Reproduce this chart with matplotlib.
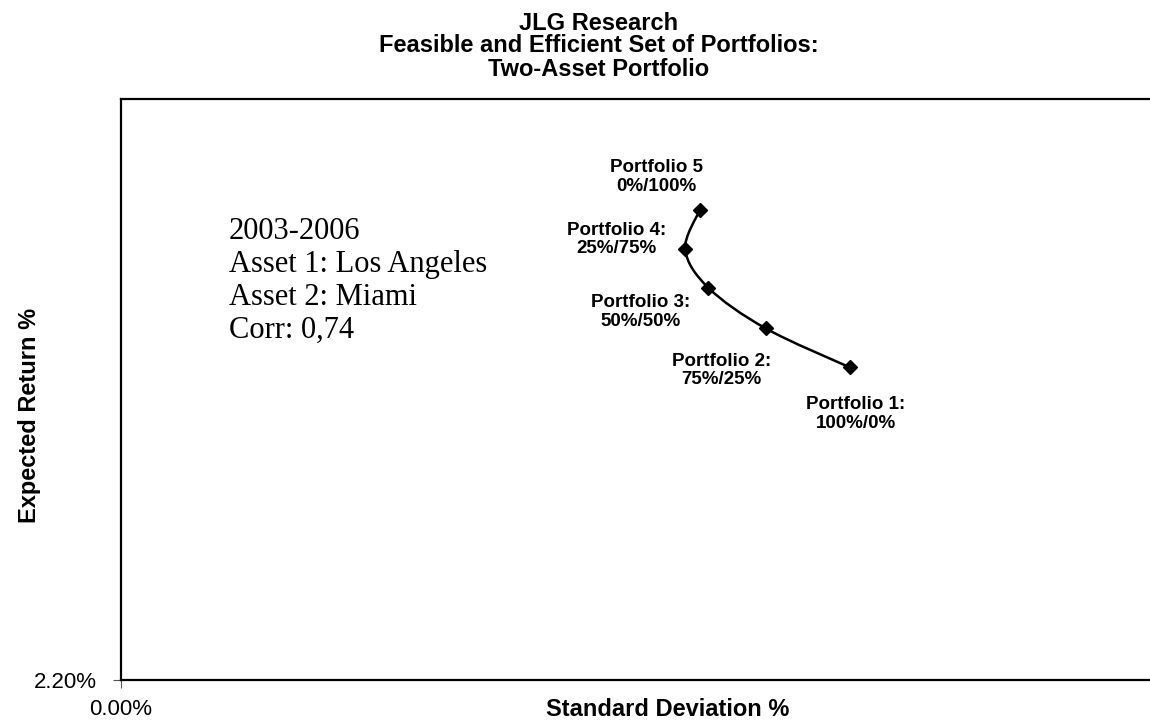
import matplotlib
matplotlib.use("Agg")
import matplotlib.pyplot as plt
from matplotlib.path import Path
from matplotlib.patches import PathPatch
from matplotlib.ticker import FixedLocator, FuncFormatter

# Portfolio risk / return (percent)
portfolios = ["Portfolio 1:\n100%/0%", "Portfolio 2:\n75%/25%", "Portfolio 3:\n50%/50%",
              "Portfolio 4:\n25%/75%", "Portfolio 5\n0%/100%"]
std_dev = [8.50, 7.52, 6.85, 6.58, 6.75]
exp_return = [2.738, 2.805, 2.875, 2.941, 3.009]

x_ticks = [0.0]
y_ticks = [2.20]
x_range = (0.0, 12.0)
y_range = (2.20, 3.20)

W, H, DPI = 1150, 724, 100
fig = plt.figure(figsize=(W / DPI, H / DPI), dpi=DPI)
ax = fig.add_axes([121 / W, 1 - 680 / H, 1 - 121 / W, (680 - 99) / H])
ax.set_xlim(*x_range)
ax.set_ylim(*y_range)

for side in ("left", "top", "bottom"):
    ax.spines[side].set_linewidth(1.6)
    ax.spines[side].set_color("black")
ax.spines["right"].set_visible(False)

ax.xaxis.set_major_locator(FixedLocator(x_ticks))
ax.yaxis.set_major_locator(FixedLocator(y_ticks))
ax.xaxis.set_major_formatter(FuncFormatter(lambda v, p: f"{v:.2f}%"))
ax.yaxis.set_major_formatter(FuncFormatter(lambda v, p: f"{v:.2f}%"))
ax.tick_params(axis="both", direction="out", length=5.5, width=0.8, color="#555555",
               labelsize=16, labelcolor="black")
ax.tick_params(axis="x", pad=8)
ax.tick_params(axis="y", pad=12)
for lbl in ax.get_xticklabels() + ax.get_yticklabels():
    lbl.set_fontfamily("Liberation Sans")

# Smoothed connecting line (cubic Bezier through the points, Catmull-Rom tangents)
pts = list(zip(std_dev, exp_return))
verts = [pts[0]]
codes = [Path.MOVETO]
n = len(pts)
for i in range(n - 1):
    p0 = pts[i - 1] if i > 0 else pts[i]
    p1 = pts[i]
    p2 = pts[i + 1]
    p3 = pts[i + 2] if i + 2 < n else pts[i + 1]
    c1 = (p1[0] + (p2[0] - p0[0]) / 6, p1[1] + (p2[1] - p0[1]) / 6)
    c2 = (p2[0] - (p3[0] - p1[0]) / 6, p2[1] - (p3[1] - p1[1]) / 6)
    verts += [c1, c2, p2]
    codes += [Path.CURVE4] * 3
ax.add_patch(PathPatch(Path(verts, codes), facecolor="none", edgecolor="black", lw=1.8))

ax.plot(std_dev, exp_return, linestyle="none", marker="D", markersize=7.2,
        color="black", zorder=3)

offsets = [(6, -47), (-44, -42), (-68, -24), (-69, 10), (-43, 33)]
for name, x, y, (dx, dy) in zip(portfolios, std_dev, exp_return, offsets):
    ax.annotate(name, (x, y), xytext=(dx, dy), textcoords="offset pixels",
                ha="center", va="center", fontsize=13.5, fontweight="bold",
                family="Liberation Sans", linespacing=1.15)

fig.text(229 / W, 1 - 281 / H, "2003-2006\nAsset 1: Los Angeles\nAsset 2: Miami\nCorr: 0,74",
         ha="left", va="center", fontsize=22, family="Liberation Serif", linespacing=1.17)

fig.text(599 / W, 1 - 46 / H,
         "JLG Research\nFeasible and Efficient Set of Portfolios:\nTwo-Asset Portfolio",
         ha="center", va="center", fontsize=17, fontweight="bold",
         family="Liberation Sans", linespacing=1.0)

fig.text(668 / W, 1 - 710 / H, "Standard Deviation %", ha="center", va="center",
         fontsize=17, fontweight="bold", family="Liberation Sans")
fig.text(30 / W, 1 - 415 / H, "Expected Return %", ha="center", va="center",
         rotation=90, fontsize=17, fontweight="bold", family="Liberation Sans")

fig.savefig("out.png", dpi=DPI)
